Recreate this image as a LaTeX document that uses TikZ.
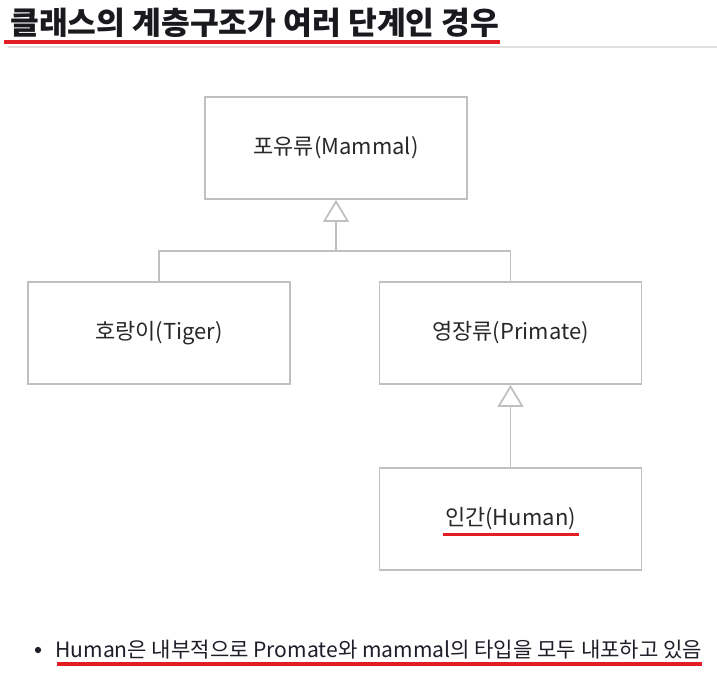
\documentclass[tikz,border=0pt]{standalone}
\usepackage{fontspec}
\setmainfont{Noto Sans CJK KR}
\usepackage{tikz}
\usetikzlibrary{positioning, arrows.meta, calc}
\definecolor{boxgray}{RGB}{192, 192, 192}
\definecolor{txtgray}{RGB}{40, 40, 40}
\definecolor{markred}{RGB}{226, 30, 36}
\definecolor{rulegray}{RGB}{225, 225, 225}
\definecolor{headink}{RGB}{25, 25, 30}
\definecolor{noteink}{RGB}{30, 30, 40}

\begin{document}
\begin{tikzpicture}[
            x=0.02cm, y=-0.02cm,
            node distance=1.7cm,
            box/.style={draw=boxgray, line width=1pt, minimum width=5.24cm,
                        minimum height=2.04cm, align=center, font=\fontsize{12.5}{15}\selectfont,
                        text=txtgray, fill=white},
            link/.style={draw=boxgray, line width=1pt},
            inh/.style={link, -{Triangle[open, length=0.44cm, width=0.52cm, fill=white]}},
            redline/.style={markred, line width=2pt}
        ]
            \fill[white] (0,0) rectangle (717,675);
            \useasboundingbox (0,0) rectangle (717,675);

            % heading
            \node[anchor=base west, inner sep=0pt, font=\bfseries\fontsize{17.8}{20}\selectfont,
                  text=headink] (title) at (10,35) {클래스의 계층구조가 여러 단계인 경우};
            \draw[redline, line width=2.2pt] (4,42) -- (title.east |- 0,42);
            \draw[rulegray, line width=0.6pt] (8,47) -- (717,47);

            % class boxes
            \node[box] (mammal) at (336,148) {포유류(Mammal)};
            \node[box] (primate) at (510.5,333) {영장류(Primate)};
            \node[box, left=1.76cm of primate] (tiger) {호랑이(Tiger)};
            \node[box, below=1.64cm of primate] (human) {인간(Human)};
            \draw[redline] ($(human.center)+(-68,16)$) -- ($(human.center)+(68,16)$);

            \coordinate (join) at (336,251);
            \draw[link] (tiger.north) |- (join) -| (primate.north);
            \draw[inh] (join) -- (mammal.south);
            \draw[inh] (human.north) -- (primate.south);

            % note
            \node[circle, fill=noteink, inner sep=0pt, minimum size=3.6pt] (dot) at (38,650) {};
            \node[anchor=base west, inner sep=0pt, font=\fontsize{12}{14}\selectfont,
                  text=noteink] (note) at (55,657) {Human은 내부적으로 Promate와 mammal의 타입을 모두 내포하고 있음};
            \draw[redline] (57,664) -- (note.east |- 0,664);
        \end{tikzpicture}
\end{document}
